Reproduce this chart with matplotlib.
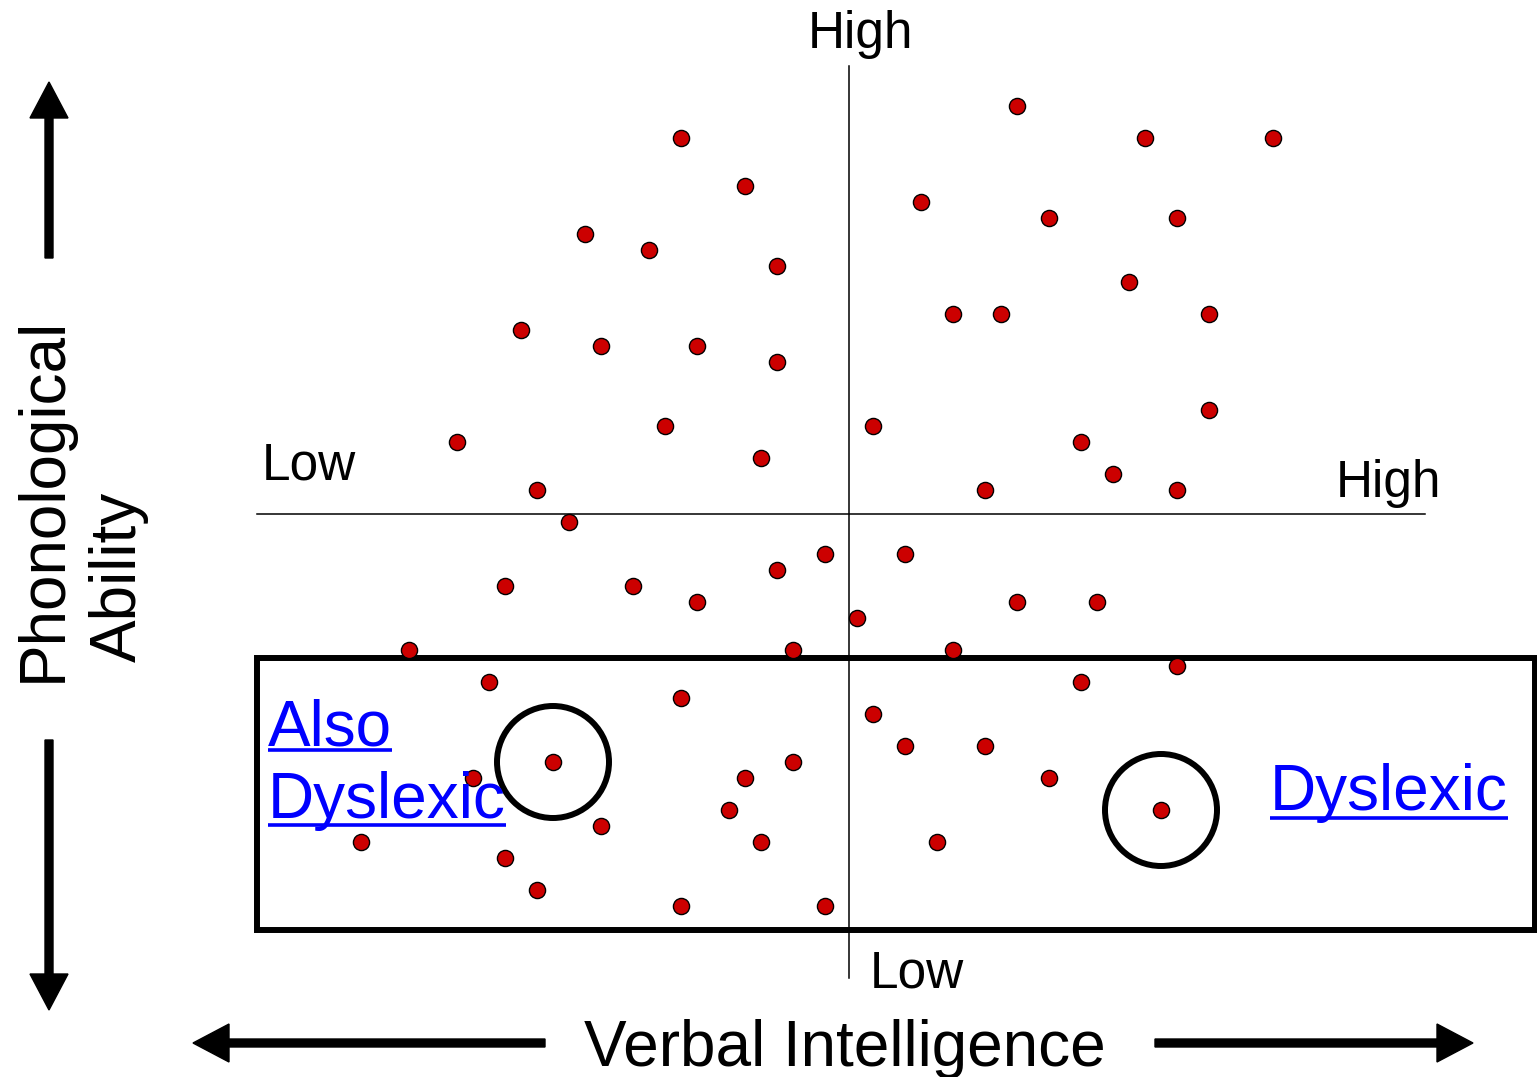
import matplotlib
matplotlib.use("Agg")
import matplotlib.pyplot as plt
from matplotlib.patches import Rectangle, Circle, FancyArrow

plt.rcParams['font.family'] = ['Liberation Sans', 'DejaVu Sans']

# Data (pixel-space positions)
verbal_x = [681, 745, 585, 649, 777, 521, 601, 697, 777, 665, 457, 761, 537,
            1017, 1145, 1273, 921, 1049, 1177, 1129, 953, 1001, 1209, 1209, 873, 1081, 1113, 985, 1177,
            569, 825, 905, 777, 505, 633, 697, 1017, 1097, 857, 409, 793, 953, 1177, 489, 1081, 681,
            873, 905, 985, 553, 793, 473, 745, 1049, 729, 1161, 601, 361, 761, 937, 505, 537, 681, 825]
phono_y = [138, 186, 234, 250, 266, 330, 346, 346, 362, 426, 442, 458, 490,
           106, 138, 138, 202, 218, 218, 282, 314, 314, 314, 410, 426, 442, 474, 490, 490,
           522, 554, 554, 570, 586, 586, 602, 602, 602, 618, 650, 650, 650, 666, 682, 682, 698,
           714, 746, 746, 762, 762, 778, 778, 778, 810, 810, 826, 842, 842, 842, 858, 890, 906, 906]
highlight_x = [553, 1161]
highlight_y = [762, 810]

W, H = 1537, 1077
fig = plt.figure(figsize=(W / 100, H / 100), dpi=100)
ax = fig.add_axes([0, 0, 1, 1])
ax.set_xlim(0, W)
ax.set_ylim(H, 0)
ax.axis('off')

# quadrant axes
ax.plot([849, 849], [66, 978], color='black', lw=1.1)
ax.plot([257, 1425], [514, 514], color='black', lw=1.1)

# dyslexic region box
ax.add_patch(Rectangle((257, 658), 1278, 272, fill=False, edgecolor='black', lw=4.3, zorder=3))

# points
ax.scatter(verbal_x, phono_y, s=135, facecolor='#CC0000', edgecolor='black', linewidths=1.0, zorder=4)

# highlight circles
for cx, cy in zip(highlight_x, highlight_y):
    ax.add_patch(Circle((cx, cy), 56, fill=False, edgecolor='black', lw=4.3, zorder=5))

# arrows
akw = dict(width=8, head_width=38, head_length=36, length_includes_head=True,
           color='black', zorder=5)
ax.add_patch(FancyArrow(49, 258, 0, 82 - 258, **akw))
ax.add_patch(FancyArrow(49, 740, 0, 1010 - 740, **akw))
ax.add_patch(FancyArrow(545, 1043, 193 - 545, 0, **akw))
ax.add_patch(FancyArrow(1155, 1043, 1473 - 1155, 0, **akw))

# labels
fs_small = 37
ax.text(860, 48, 'High', fontsize=fs_small, ha='center', va='baseline')
ax.text(262, 480, 'Low', fontsize=fs_small, ha='left', va='baseline')
ax.text(1441, 497, 'High', fontsize=fs_small, ha='right', va='baseline')
ax.text(870, 988, 'Low', fontsize=fs_small, ha='left', va='baseline')

ax.text(845, 1066, 'Verbal Intelligence', fontsize=46, ha='center', va='baseline')
ax.text(44, 499, 'Phonological', fontsize=46, ha='center', va='center', rotation=90)
ax.text(119, 577, 'Ability', fontsize=46, ha='center', va='center', rotation=90)

# blue underlined labels
blue = '#0000FF'
t1 = ax.text(268, 745, 'Also', fontsize=46, color=blue, ha='left', va='baseline', zorder=6)
t2 = ax.text(268, 818, 'Dyslexic', fontsize=46, color=blue, ha='left', va='baseline', zorder=6)
t3 = ax.text(1270, 810, 'Dyslexic', fontsize=46, color=blue, ha='left', va='baseline', zorder=6)

fig.canvas.draw()
renderer = fig.canvas.get_renderer()
inv = ax.transData.inverted()
for t, uy in [(t1, 750), (t2, 825), (t3, 818)]:
    bb = t.get_window_extent(renderer)
    (x0, _), (x1, _) = inv.transform([[bb.x0, bb.y0], [bb.x1, bb.y1]])
    ax.plot([x0, x1], [uy, uy], color=blue, lw=2.6, solid_capstyle='butt', zorder=6)

fig.savefig('out.png', dpi=100, facecolor='white')
